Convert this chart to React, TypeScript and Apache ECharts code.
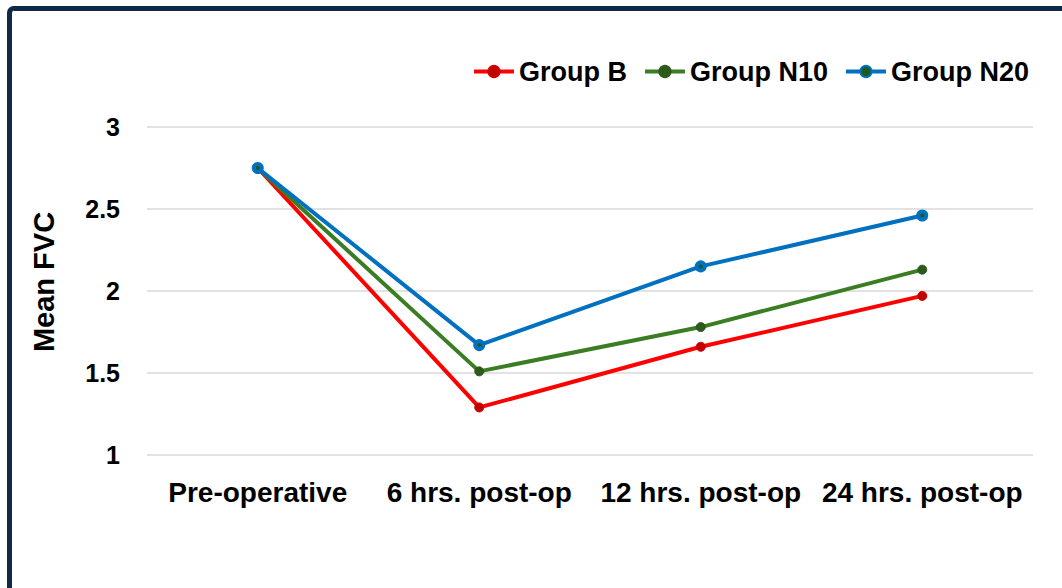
import React, { useEffect, useRef } from "react";
import * as echarts from "echarts";

const categories = ["Pre-operative", "6 hrs. post-op", "12 hrs. post-op", "24 hrs. post-op"];
const groupB = [2.75, 1.29, 1.66, 1.97];
const groupN10 = [2.75, 1.51, 1.78, 2.13];
const groupN20 = [2.75, 1.67, 2.15, 2.46];
const seriesNames = ["Group B", "Group N10", "Group N20"];
const yAxisTitle = "Mean FVC";

const FONT = "'Liberation Sans', Arial, sans-serif";

export default function App() {
  const ref = useRef<HTMLDivElement>(null);
  useEffect(() => {
    if (!ref.current) return;
    const chart = echarts.init(ref.current, undefined, { renderer: "svg" });
    const mk = (name: string, data: number[], line: string, fill: string, border: string, bw: number, size: number) => ({
      name,
      type: "line",
      data,
      symbol: "circle",
      symbolSize: size,
      showSymbol: true,
      lineStyle: { color: line, width: 4 },
      itemStyle: { color: fill, borderColor: border, borderWidth: bw },
      emphasis: { disabled: true },
    });
    chart.setOption({
      animation: false,
      backgroundColor: "#ffffff",
      textStyle: { fontFamily: FONT },
      graphic: [
        {
          type: "rect",
          shape: { x: 9.5, y: 8.5, width: 1200, height: 800, r: 4 },
          style: { fill: "none", stroke: "#0e2a47", lineWidth: 5 },
          z: 100,
        },
        {
          type: "text",
          x: 44,
          y: 282,
          rotation: Math.PI / 2,
          style: {
            text: yAxisTitle,
            fontFamily: FONT,
            fontWeight: "bold",
            fontSize: 29,
            fill: "#000",
            align: "center",
            verticalAlign: "middle",
          },
        },
      ],
      legend: {
        data: seriesNames,
        right: 28,
        top: 53,
        itemWidth: 40,
        itemHeight: 14,
        itemGap: 16,
        lineStyle: { width: 4 },
        textStyle: { fontFamily: FONT, fontWeight: "bold", fontSize: 27, color: "#000" },
      },
      grid: { left: 147, right: 29, top: 127, bottom: 133 },
      xAxis: {
        type: "category",
        data: categories,
        boundaryGap: true,
        axisLine: { show: false },
        axisTick: { show: false },
        axisLabel: { fontFamily: FONT, fontWeight: "bold", fontSize: 28, color: "#000", margin: 23, interval: 0 },
      },
      yAxis: {
        type: "value",
        min: 1,
        max: 3,
        interval: 0.5,
        axisLine: { show: false },
        axisTick: { show: false },
        splitLine: { lineStyle: { color: "#d9d9d9", width: 1.5 } },
        axisLabel: { fontFamily: FONT, fontWeight: "bold", fontSize: 25, color: "#000", margin: 27 },
      },
      series: [
        mk(seriesNames[0], groupB, "#ff0000", "#c00000", "#d00000", 1, 9),
        mk(seriesNames[1], groupN10, "#3a7d22", "#2d5a1b", "#2d5a1b", 1, 9),
        mk(seriesNames[2], groupN20, "#0070c0", "#1e5a1e", "#0070c0", 4, 8),
      ],
    });
    return () => chart.dispose();
  }, []);
  return (
    <div
      ref={ref}
      style={{ position: "fixed", left: 0, top: 0, width: 1062, height: 588, background: "#fff" }}
    />
  );
}
